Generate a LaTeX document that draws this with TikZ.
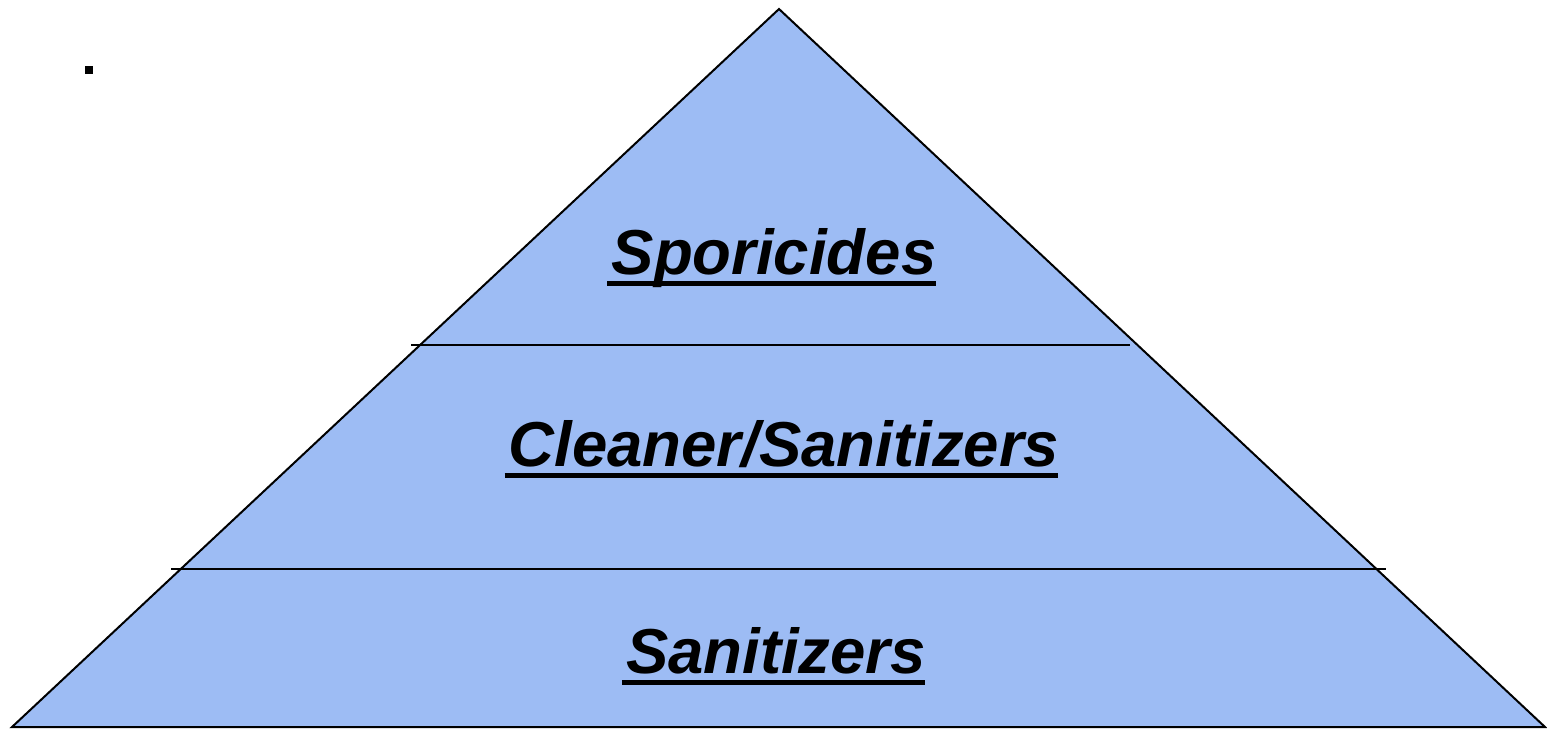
\documentclass[tikz,border=0pt]{standalone}
\usepackage{fontspec}
\setmainfont{Liberation Sans}
\usetikzlibrary{positioning}

\definecolor{pyrblue}{RGB}{157,188,244}
\tikzset{
	tier/.style={inner sep=0pt, anchor=base, font=\fontsize{63.5}{72}\bfseries\itshape\selectfont},
	uline/.style={line width=5pt},
}

\begin{document}
\begin{tikzpicture}[x=1pt,y=-1pt]
	\useasboundingbox (0,0) rectangle (1547,729);
	\coordinate (apex) at (779,9);
	\coordinate (bl) at (12,727);
	\coordinate (br) at (1545,727);
	\filldraw[fill=pyrblue, line width=2pt, line join=miter] (apex) -- (br) -- (bl) -- cycle;
	% dividers
	\coordinate (d1a) at (411,345); \coordinate (d1b) at (1130,345);
	\coordinate (d2a) at (171,569); \coordinate (d2b) at (1386,569);
	\draw[line width=2.5pt] (d1a) -- (d1b);
	\draw[line width=2.5pt] (d2a) -- (d2b);
	% labels
	\node[tier] (spor) at (774,274) {Sporicides};
	\node[tier] (clean) at (784,466) {Cleaner/Sanitizers};
	\node[tier] (sanit) at (776,673) {Sanitizers};
	\foreach \n in {spor,clean,sanit}
		\draw[uline] ([xshift=-4pt,yshift=-9pt]\n.base west) -- ([xshift=-1pt,yshift=-9pt]\n.base east);
	% stray mark
	\fill (85,66) rectangle (93,74);
\end{tikzpicture}
\end{document}
